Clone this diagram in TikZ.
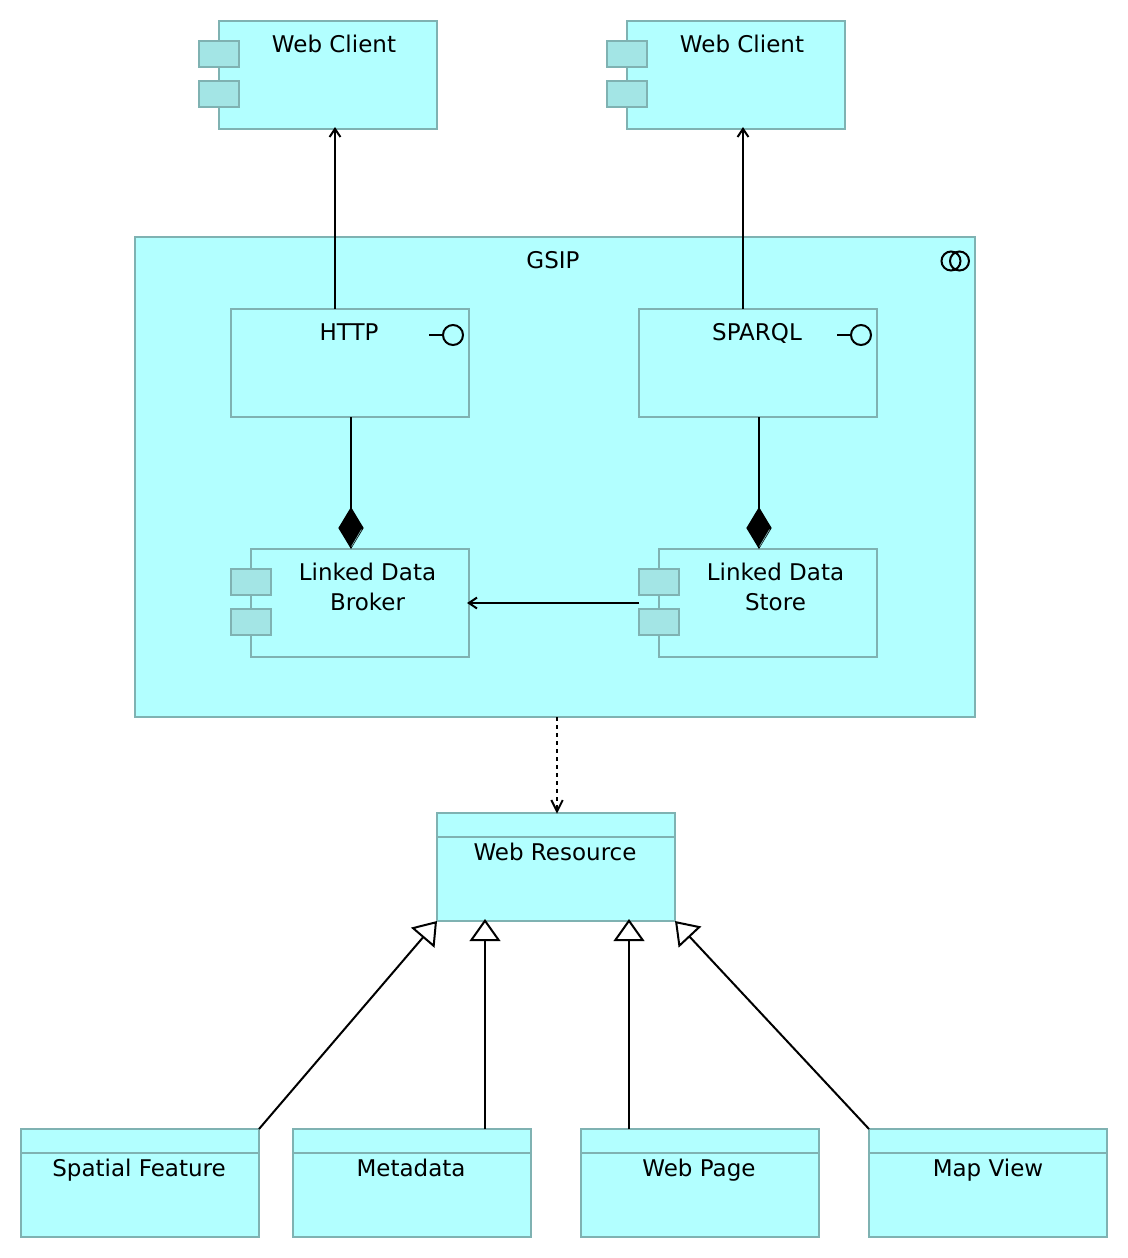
\documentclass[tikz,border=0pt]{standalone}
\usepackage{fontspec}
\setmainfont{DejaVu Sans}
\usetikzlibrary{arrows.meta}
\definecolor{boxfill}{HTML}{B2FFFF}
\definecolor{boxline}{HTML}{7FB2B2}
\definecolor{tabfill}{HTML}{A3E5E5}
\pgfdeclarearrow{
  name=FlowVee,
  setup code={\pgfarrowssettipend{0pt}\pgfarrowssetlineend{-1.6pt}\pgfarrowssetvisualbackend{-8pt}\pgfarrowssetbackend{-8pt}\pgfarrowshullpoint{0pt}{0pt}\pgfarrowshullpoint{-8pt}{5pt}\pgfarrowshullpoint{-8pt}{-5pt}},
  drawing code={\pgfsetdash{}{0pt}\pgfsetlinewidth{1.5pt}\pgfsetmiterjoin\pgfsetbuttcap
    \pgfpathmoveto{\pgfqpoint{-7.5pt}{4.1pt}}\pgfpathlineto{\pgfqpoint{-1.4pt}{0pt}}\pgfpathlineto{\pgfqpoint{-7.5pt}{-4.1pt}}\pgfusepathqstroke},
}
\pgfdeclarearrow{
  name=DependVee,
  setup code={\pgfarrowssettipend{0pt}\pgfarrowssetlineend{-2pt}\pgfarrowssetvisualbackend{-11pt}\pgfarrowssetbackend{-11pt}\pgfarrowshullpoint{0pt}{0pt}\pgfarrowshullpoint{-11pt}{5pt}\pgfarrowshullpoint{-11pt}{-5pt}},
  drawing code={\pgfsetdash{}{0pt}\pgfsetlinewidth{1.5pt}\pgfsetmiterjoin\pgfsetbuttcap
    \pgfpathmoveto{\pgfqpoint{-10.5pt}{4.3pt}}\pgfpathlineto{\pgfqpoint{-1.9pt}{0pt}}\pgfpathlineto{\pgfqpoint{-10.5pt}{-4.3pt}}\pgfusepathqstroke},
}
\tikzset{
  x=0.75pt, y=-0.75pt,
  box/.style={draw=boxline, fill=boxfill, line width=1.5pt, inner sep=0pt, outer sep=0pt, minimum width=178.5pt, minimum height=81pt, anchor=north west},
  wide/.style={box, minimum width=178.5pt},
  comp/.style={box, minimum width=163.5pt},
  tab/.style={draw=boxline, fill=tabfill, line width=1.5pt, inner sep=0pt, outer sep=0pt, minimum width=30pt, minimum height=19.5pt, anchor=north west},
  txt/.style={font=\fontsize{17.25pt}{22.5pt}\selectfont, inner sep=0pt, outer sep=0pt, anchor=base, align=center},
  conn/.style={draw=black, line width=1.5pt},
  icon/.style={draw=black, line width=1.5pt, fill=none},
  flow/.style={conn, -{FlowVee}},
  compose/.style={conn, {Diamond[length=31.5pt,width=19pt,fill=black]}-},
  special/.style={conn, -{Triangle[open,length=16.5pt,width=23pt,fill=white,line width=1.5pt]}},
  depend/.style={conn, dash pattern=on 3pt off 3pt, -{DependVee}},
  sliver/.style={draw=boxline, line width=0.5pt},
}
\begin{document}
\begin{tikzpicture}
\useasboundingbox (0,0) rectangle (1128,1258);
% Web clients
\node[comp] (wc1) at (219,21) {};
\node[tab] (wc1a) at (199,41) {};
\node[tab] (wc1b) at (199,81) {};
\node[txt] (wc1t) at (334,52) {Web Client};
\node[comp] (wc2) at (627,21) {};
\node[tab] (wc2a) at (607,41) {};
\node[tab] (wc2b) at (607,81) {};
\node[txt] (wc2t) at (742,52) {Web Client};
% GSIP
\node[box, minimum width=630pt, minimum height=360pt] (gsip) at (135,237) {};
\node[txt] (gsipt) at (553,268) {GSIP};
\draw[icon] (951,261) circle[radius=9.5];
\draw[icon] (959.5,261) circle[radius=9.5];
% Interfaces
\node[wide] (http) at (231,309) {};
\node[txt] (httpt) at (349,340) {HTTP};
\draw[icon] (453,335) circle[radius=10];
\draw[icon] (429,335) -- (443,335);
\node[wide] (sparql) at (639,309) {};
\node[txt] (sparqlt) at (757,340) {SPARQL};
\draw[icon] (861,335) circle[radius=10];
\draw[icon] (837,335) -- (851,335);
% Components
\node[comp] (broker) at (251,549) {};
\node[tab] (brokera) at (231,569) {};
\node[tab] (brokerb) at (231,609) {};
\node[txt, anchor=center] (brokert) at (367.5,586.5) {Linked Data\\Broker};
\node[comp] (store) at (659,549) {};
\node[tab] (storea) at (639,569) {};
\node[tab] (storeb) at (639,609) {};
\node[txt, anchor=center] (storet) at (775.5,586.5) {Linked Data\\Store};
% Web resource
\node[wide] (res) at (437,813) {};
\draw[draw=boxline, line width=1.5pt] (res.north west) ++(0,24) -- ++(238,0);
\node[txt] (rest) at (555,860) {Web Resource};
% Leaves
\node[wide] (spat) at (21,1129) {};
\draw[draw=boxline, line width=1.5pt] (spat.north west) ++(0,24) -- ++(238,0);
\node[txt] (spatt) at (139,1176) {Spatial Feature};
\node[wide] (meta) at (293,1129) {};
\draw[draw=boxline, line width=1.5pt] (meta.north west) ++(0,24) -- ++(238,0);
\node[txt] (metat) at (411,1176) {Metadata};
\node[wide] (page) at (581,1129) {};
\draw[draw=boxline, line width=1.5pt] (page.north west) ++(0,24) -- ++(238,0);
\node[txt] (paget) at (699,1176) {Web Page};
\node[wide] (map) at (869,1129) {};
\draw[draw=boxline, line width=1.5pt] (map.north west) ++(0,24) -- ++(238,0);
\node[txt] (mapt) at (988,1176) {Map View};
% Connectors
\draw[flow] ([xshift=-11.25pt]http.north) -- ([xshift=5.25pt,yshift=1.5pt]wc1.south);
\draw[flow] ([xshift=-11.25pt]sparql.north) -- ([xshift=5.25pt,yshift=1.5pt]wc2.south);
\draw[compose] ([xshift=-6.75pt]broker.north) -- ([xshift=0.75pt]http.south);
\draw[compose] ([xshift=-6.75pt]store.north) -- ([xshift=0.75pt]sparql.south);
\draw[sliver] (361.5,529.5) -- (351.5,546.5);
\draw[sliver] (769.5,529.5) -- (759.5,546.5);
\draw[flow] ([xshift=-15pt]store.west) -- ([xshift=-1.5pt]broker.east);
\draw[depend] ([xshift=1.5pt]gsip.south) -- ([xshift=0.75pt,yshift=-0.75pt]res.north);
\draw[special] (spat.north east) -- (res.south west);
\draw[special] ([xshift=54.75pt]meta.north) -- ([xshift=-53.25pt,yshift=1.5pt]res.south);
\draw[special] ([xshift=-53.25pt]page.north) -- ([xshift=54.75pt,yshift=1.5pt]res.south);
\draw[special] (map.north west) -- (res.south east);
\end{tikzpicture}
\end{document}
